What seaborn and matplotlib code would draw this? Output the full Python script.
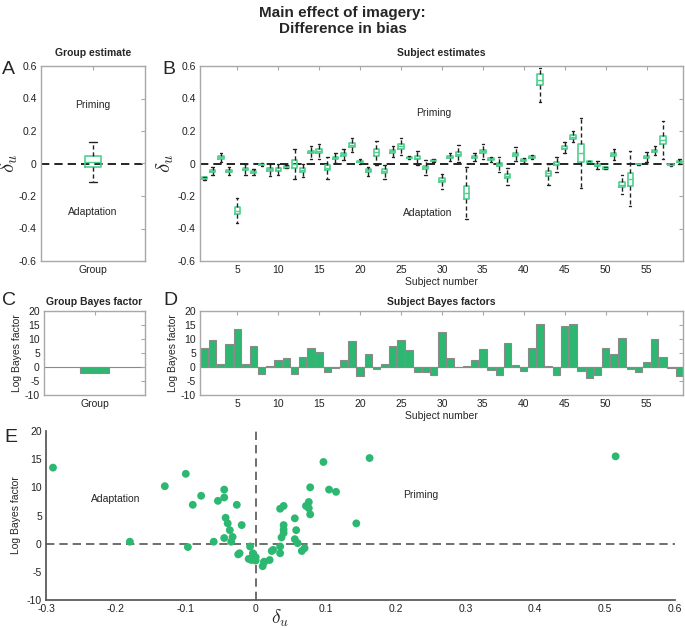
import numpy as np
import pandas as pd
import matplotlib
matplotlib.use("Agg")
import matplotlib.pyplot as plt
import seaborn as sns
from matplotlib.ticker import FuncFormatter

sns.set_theme(style="white")
plt.rcParams["font.family"] = ["Liberation Sans", "DejaVu Sans"]
plt.rcParams["axes.unicode_minus"] = False
plt.rcParams["mathtext.fontset"] = "cm"

BOX_C = "#4fd08e"   # box outline green
BAR_C = "#2db872"   # bar / dot green
SPINE_C = "#a8a8a8"

# --- data ---
subjects = np.arange(1, 60)

# subject estimates of delta_u : median, quartiles, whisker ends
med = [-0.09, -0.045, 0.037, -0.045, -0.29, -0.033, -0.054, -0.006, -0.035, -0.037,
       -0.02, 0.0, -0.04, 0.072, 0.078, -0.025, 0.035, 0.058, 0.115, 0.012,
       -0.043, 0.07, -0.045, 0.076, 0.105, 0.035, 0.035, -0.023, 0.02, -0.1,
       0.04, 0.06, -0.18, 0.04, 0.076, 0.025, -0.006, -0.078, 0.056, 0.023,
       0.04, 0.515, -0.06, 0.0, 0.097, 0.163, 0.066, 0.01, -0.01, -0.027,
       0.056, -0.13, -0.097, -0.004, 0.04, 0.078, 0.144, -0.008, 0.012]
q1 = [-0.097, -0.055, 0.028, -0.053, -0.31, -0.042, -0.06, -0.01, -0.045, -0.046,
      -0.025, -0.025, -0.05, 0.062, 0.065, -0.04, 0.026, 0.048, 0.104, 0.008,
      -0.052, 0.048, -0.056, 0.066, 0.092, 0.031, 0.025, -0.033, 0.015, -0.112,
      0.032, 0.045, -0.22, 0.032, 0.066, 0.019, -0.018, -0.09, 0.045, 0.018,
      0.036, 0.485, -0.075, -0.01, 0.088, 0.153, 0.01, 0.007, -0.016, -0.031,
      0.048, -0.145, -0.138, -0.006, 0.032, 0.07, 0.12, -0.012, 0.007]
q3 = [-0.085, -0.037, 0.045, -0.037, -0.27, -0.025, -0.047, -0.002, -0.026, -0.028,
      -0.016, 0.02, -0.03, 0.08, 0.088, -0.01, 0.043, 0.066, 0.125, 0.016,
      -0.035, 0.09, -0.035, 0.085, 0.118, 0.039, 0.045, -0.013, 0.024, -0.088,
      0.048, 0.073, -0.14, 0.048, 0.086, 0.031, 0.006, -0.066, 0.066, 0.028,
      0.044, 0.55, -0.045, 0.01, 0.106, 0.173, 0.12, 0.013, -0.004, -0.023,
      0.064, -0.115, -0.056, -0.002, 0.048, 0.086, 0.17, -0.004, 0.017]
lo = [-0.10, -0.07, 0.01, -0.07, -0.365, -0.068, -0.07, -0.015, -0.075, -0.07,
      -0.03, -0.097, -0.085, 0.03, 0.03, -0.095, 0.005, 0.02, 0.07, 0.0,
      -0.075, -0.01, -0.095, 0.04, 0.05, 0.025, -0.01, -0.07, 0.008, -0.155,
      0.015, 0.01, -0.34, 0.015, 0.03, 0.01, -0.055, -0.13, 0.015, 0.005,
      0.03, 0.38, -0.13, -0.05, 0.065, 0.13, -0.15, 0.003, -0.035, -0.035,
      0.02, -0.19, -0.26, -0.008, 0.01, 0.05, 0.027, -0.015, 0.0]
hi = [-0.08, -0.02, 0.066, -0.02, -0.21, 0.0, -0.035, 0.002, 0.0, 0.0,
      -0.01, 0.09, -0.005, 0.105, 0.12, 0.04, 0.065, 0.09, 0.16, 0.03,
      -0.02, 0.14, -0.01, 0.11, 0.155, 0.045, 0.08, 0.02, 0.03, -0.065,
      0.065, 0.115, -0.02, 0.065, 0.12, 0.04, 0.04, -0.03, 0.1, 0.035,
      0.05, 0.587, 0.0, 0.04, 0.13, 0.2, 0.28, 0.017, 0.015, -0.02,
      0.09, -0.07, 0.076, 0.0, 0.07, 0.11, 0.26, 0.0, 0.03]

# subject log Bayes factors
log_bf = [6.9, 9.6, 1.1, 8.2, 13.5, 1.2, 7.6, -2.6, 0.35, 2.4,
          3.3, -2.4, 3.6, 6.7, 5.2, -1.9, -0.5, 2.4, 9.2, -3.2,
          4.6, -0.8, 1.0, 7.4, 9.6, 6.2, -1.7, -1.7, -2.9, 12.4,
          3.3, 0.1, 0.35, 2.5, 6.3, -1.1, -2.9, 8.5, 0.8, -1.3,
          6.7, 15.5, 0.35, -3.0, 14.5, 15.2, -1.3, -4.0, -2.7, 6.9,
          4.5, 10.2, -0.6, -1.7, 1.9, 10.0, 3.6, -0.5, -3.3]

# group estimate and group Bayes factor
group_box = [-0.115, -0.02, 0.01, 0.045, 0.135]   # lo, q1, med, q3, hi
group_bf = -2.2

# long tables for seaborn (5 points per box -> exact quartiles / whiskers)
rows = []
for s, a, b, c, d, e in zip(subjects, lo, q1, med, q3, hi):
    for v in (a, b, c, d, e):
        rows.append({"subject": s, "delta": v})
subj_df = pd.DataFrame(rows)
group_df = pd.DataFrame({"cond": ["Group"] * 5, "delta": group_box})
bf_df = pd.DataFrame({"subject": subjects, "bf": log_bf, "delta": med})

W, H = 685, 628
fig = plt.figure(figsize=(W / 100, H / 100), dpi=100)


def box_axes(l, t, r, b):
    return fig.add_axes([l / W, 1 - b / H, (r - l) / W, (b - t) / H])


def style_box(ax):
    for sp in ax.spines.values():
        sp.set_visible(True)
        sp.set_color(SPINE_C)
        sp.set_linewidth(1.0)
    ax.tick_params(direction="in", length=3, width=0.8, color=SPINE_C,
                   labelsize=7.5, top=True, right=True, pad=3, labelcolor="#222")


def tidy(v, p):
    v = round(v, 2)
    return "0" if v == 0 else f"{v:g}"


fmt_g = FuncFormatter(tidy)

box_kw = dict(whis=(0, 100), fill=False, color=BOX_C, linewidth=1.2,
              whiskerprops=dict(color="#222", linestyle=(0, (3, 2)), linewidth=1.0),
              capprops=dict(color="#222", linewidth=1.0),
              medianprops=dict(color=BOX_C, linewidth=1.0),
              boxprops=dict(color=BOX_C))

# ---------- A: group estimate ----------
axA = box_axes(41, 66, 145, 261)
sns.boxplot(data=group_df, x="cond", y="delta", width=0.155, ax=axA,
            capwidths=0.08, **box_kw)
axA.axhline(0, color="black", ls=(0, (5, 3)), lw=1.2, zorder=0)
axA.set_xlim(-0.5, 0.5)
axA.set_ylim(-0.6, 0.6)
axA.set_yticks(np.arange(-0.6, 0.61, 0.2))
axA.yaxis.set_major_formatter(fmt_g)
axA.set_xlabel("")
axA.set_ylabel(r"$\delta_u$", fontsize=15)
axA.yaxis.set_label_coords(-0.2, 0.5)
axA.set_title("Group estimate", fontsize=7.5, weight="bold", pad=7)
axA.text(0, 0.36, "Priming", ha="center", va="center", fontsize=7.5)
axA.text(0, -0.3, "Adaptation", ha="center", va="center", fontsize=7.5)
style_box(axA)

# ---------- B: subject estimates ----------
axB = box_axes(200, 66, 683, 261)
sns.boxplot(data=subj_df, x="subject", y="delta", native_scale=True, width=0.65,
            ax=axB, capwidths=0.3, **box_kw)
axB.axhline(0, color="black", ls=(0, (5, 3)), lw=1.2, zorder=0)
axB.set_xlim(0.45, 59.45)
axB.set_ylim(-0.6, 0.6)
axB.set_yticks(np.arange(-0.6, 0.61, 0.2))
axB.yaxis.set_major_formatter(fmt_g)
axB.set_xticks(np.arange(5, 60, 5))
axB.set_xlabel("Subject number", fontsize=7.5, labelpad=1)
axB.set_ylabel(r"$\delta_u$", fontsize=15)
axB.yaxis.set_label_coords(-0.05, 0.5)
axB.set_title("Subject estimates", fontsize=7.5, weight="bold", pad=7)
axB.text(29, 0.31, "Priming", ha="center", va="center", fontsize=7.5)
axB.text(28.2, -0.305, "Adaptation", ha="center", va="center", fontsize=7.5)
style_box(axB)

# ---------- C: group Bayes factor ----------
axC = box_axes(44, 311, 145, 395)
sns.barplot(x=["Group"], y=[group_bf], color=BAR_C, saturation=1, width=0.28,
            edgecolor="#8a8a8a", linewidth=0.8, ax=axC)
axC.axhline(0, color="#8a8a8a", lw=0.8, zorder=0)
axC.set_xlim(-0.5, 0.5)
axC.set_ylim(-10, 20)
axC.set_yticks(np.arange(-10, 21, 5))
axC.set_ylabel("Log Bayes factor", fontsize=7.5, labelpad=2)
axC.set_title("Group Bayes factor", fontsize=7.5, weight="bold", pad=4)
style_box(axC)

# ---------- D: subject Bayes factors ----------
axD = box_axes(200, 311, 683, 395)
sns.barplot(data=bf_df, x="subject", y="bf", native_scale=True, color=BAR_C,
            saturation=1, width=0.9, edgecolor="#8a8a8a", linewidth=0.8, ax=axD)
axD.axhline(0, color="#8a8a8a", lw=0.8, zorder=0)
axD.set_xlim(0.45, 59.45)
axD.set_ylim(-10, 20)
axD.set_yticks(np.arange(-10, 21, 5))
axD.set_xticks(np.arange(5, 60, 5))
axD.set_xlabel("Subject number", fontsize=7.5, labelpad=1)
axD.set_ylabel("Log Bayes factor", fontsize=7.5, labelpad=2)
axD.set_title("Subject Bayes factors", fontsize=7.5, weight="bold", pad=4)
style_box(axD)

# ---------- E: estimate vs Bayes factor ----------
axE = box_axes(46, 431, 675, 600)
axE.axhline(0, color="#555", ls=(0, (5, 3)), lw=1.2, zorder=0)
axE.axvline(0, color="#555", ls=(0, (5, 3)), lw=1.2, zorder=0)
sns.scatterplot(data=bf_df, x="delta", y="bf", color=BAR_C, s=32,
                edgecolor="none", ax=axE, zorder=3)
axE.set_xlim(-0.3, 0.6)
axE.set_ylim(-10, 20)
axE.set_xticks(np.arange(-0.3, 0.61, 0.1))
axE.xaxis.set_major_formatter(fmt_g)
axE.set_yticks(np.arange(-10, 21, 5))
axE.set_xlabel(r"$\delta_u$", fontsize=14)
axE.xaxis.set_label_coords(0.372, -0.045)
axE.set_ylabel("Log Bayes factor", fontsize=7.5, labelpad=4)
axE.text(-0.2, 7.9, "Adaptation", ha="center", va="center", fontsize=7.5)
axE.text(0.236, 8.6, "Priming", ha="center", va="center", fontsize=7.5)
for side in ["top", "right"]:
    axE.spines[side].set_visible(False)
for side in ["left", "bottom"]:
    axE.spines[side].set_visible(True)
    axE.spines[side].set_color("#555")
axE.tick_params(direction="in", length=4, width=0.8, color="#555",
                labelsize=7.5, pad=3, labelcolor="#222")

# ---------- titles and panel letters ----------
fig.text(0.5, 1 - 21 / H, "Main effect of imagery:\nDifference in bias",
         ha="center", va="center", fontsize=11, weight="bold", linespacing=1.25)
for lbl, x, y in [("A", 2, 70), ("B", 162, 70), ("C", 2, 301),
                  ("D", 163, 301), ("E", 4, 438)]:
    fig.text(x / W, 1 - y / H, lbl, fontsize=14, ha="left", va="center")

fig.savefig("out.png", dpi=100)
